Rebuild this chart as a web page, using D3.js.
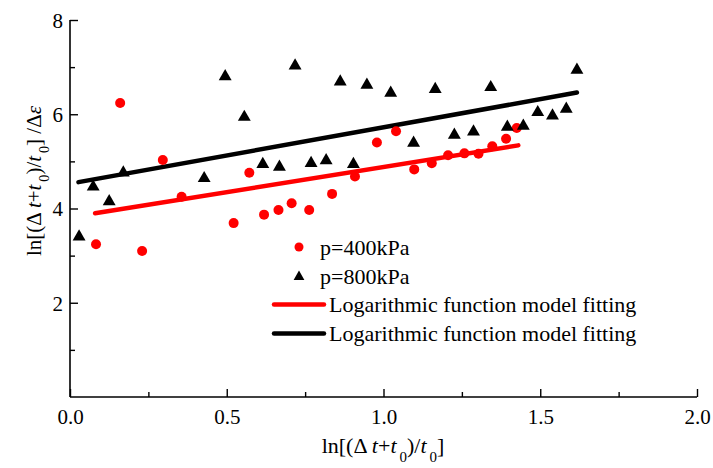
<!DOCTYPE html>
<html>
<head>
<meta charset="utf-8">
<script src="https://cdn.jsdelivr.net/npm/d3@7"></script>
<style>
  html, body { margin: 0; padding: 0; background: #fff; }
  svg { display: block; }
  text { font-family: "Liberation Serif", "Times New Roman", serif; fill: #000; }
</style>
</head>
<body>
<svg id="chart" width="713" height="468"></svg>
<script>
// ---- data ----
const x400 = [0.083, 0.160, 0.230, 0.296, 0.356, 0.522, 0.572, 0.619, 0.665, 0.707, 0.763, 0.836, 0.909, 0.979, 1.040, 1.098, 1.154, 1.206, 1.258, 1.303, 1.347, 1.391, 1.425];
const y400 = [3.24, 6.24, 3.10, 5.03, 4.25, 3.69, 4.76, 3.87, 3.97, 4.11, 3.97, 4.31, 4.68, 5.40, 5.64, 4.83, 4.96, 5.13, 5.17, 5.16, 5.32, 5.48, 5.71];

const x800 = [0.029, 0.074, 0.125, 0.170, 0.428, 0.495, 0.556, 0.615, 0.668, 0.718, 0.769, 0.817, 0.862, 0.904, 0.947, 1.023, 1.096, 1.165, 1.226, 1.287, 1.342, 1.395, 1.446, 1.492, 1.539, 1.583, 1.617];
const y800 = [3.40, 4.46, 4.15, 4.76, 4.64, 6.80, 5.94, 4.94, 4.88, 7.03, 4.96, 5.02, 6.69, 4.94, 6.62, 6.45, 5.39, 6.53, 5.56, 5.63, 6.57, 5.73, 5.75, 6.04, 5.97, 6.11, 6.94];

const fit400X = [0.080, 1.430];
const fit400Y = [3.90, 5.34];
const fit800X = [0.027, 1.617];
const fit800Y = [4.56, 6.46];

const xMajorTicks = [0, 0.5, 1.0, 1.5, 2.0];
const xMinorTicks = [0.25, 0.75, 1.25, 1.75];
const yMajorTicks = [2, 4, 6, 8];
const yMinorTicks = [1, 3, 5, 7];

const legendLabels = ["p=400kPa", "p=800kPa", "Logarithmic function model fitting", "Logarithmic function model fitting"];

// ---- drawing ----
const svg = d3.select("#chart");
const x = d3.scaleLinear().domain([0, 2]).range([70, 697]);
const y = d3.scaleLinear().domain([0, 8]).range([397, 20]);

const red = "#ff0000";
const blk = "#000000";
const serif = '"Liberation Serif", "Times New Roman", serif';

// axes
const gx = svg.append("g").attr("transform", `translate(0,${y(0)})`);
gx.call(d3.axisBottom(x).tickValues(xMajorTicks).tickSizeInner(-8).tickSizeOuter(0).tickFormat(d3.format(".1f")));
gx.append("g").call(d3.axisBottom(x).tickValues(xMinorTicks).tickSizeInner(-5).tickSizeOuter(0).tickFormat(""));
gx.selectAll(".domain").remove();
gx.append("line").attr("x1", x(0)).attr("x2", x(2)).attr("stroke", blk).attr("stroke-width", 1.6);
gx.attr("font-family", serif);
gx.selectAll("text").attr("font-size", 21).attr("dy", "0").attr("y", 27)
  .style("font-family", serif);
gx.selectAll(".tick line").attr("stroke-width", 1.4);

const gy = svg.append("g").attr("transform", `translate(${x(0)},0)`);
gy.call(d3.axisLeft(y).tickValues(yMajorTicks).tickSizeInner(-8).tickSizeOuter(0).tickFormat(d3.format("d")));
gy.append("g").call(d3.axisLeft(y).tickValues(yMinorTicks).tickSizeInner(-5).tickSizeOuter(0).tickFormat(""));
gy.selectAll(".domain").remove();
gy.append("line").attr("y1", y(0)).attr("y2", y(8)).attr("stroke", blk).attr("stroke-width", 1.6);
gy.attr("font-family", serif);
gy.selectAll("text").attr("font-size", 21).attr("x", -7).attr("dy", "0.35em")
  .style("font-family", serif);
gy.selectAll(".tick line").attr("stroke-width", 1.4);

// fit lines
const line = d3.line().x(d => x(d[0])).y(d => y(d[1]));
svg.append("path").datum(d3.zip(fit400X, fit400Y)).attr("d", line)
  .attr("fill", "none").attr("stroke", red).attr("stroke-width", 4.5).attr("stroke-linecap", "round");
svg.append("path").datum(d3.zip(fit800X, fit800Y)).attr("d", line)
  .attr("fill", "none").attr("stroke", blk).attr("stroke-width", 4.5).attr("stroke-linecap", "round");

// points
svg.append("g").selectAll("circle").data(d3.zip(x400, y400)).join("circle")
  .attr("cx", d => x(d[0])).attr("cy", d => y(d[1])).attr("r", 5).attr("fill", red);
const tri = d3.symbol().type(d3.symbolTriangle).size(72);
svg.append("g").selectAll("path").data(d3.zip(x800, y800)).join("path")
  .attr("d", tri).attr("transform", d => `translate(${x(d[0])},${y(d[1])})`).attr("fill", blk);

// legend
const lg = svg.append("g");
const lx = 299, ly0 = 247, ldy = 28.8;
const textX = [320, 320, 329, 329];
lg.append("circle").attr("cx", lx).attr("cy", ly0).attr("r", 4.5).attr("fill", red);
lg.append("path").attr("d", d3.symbol().type(d3.symbolTriangle).size(50))
  .attr("transform", `translate(${lx},${ly0 + ldy + 1})`).attr("fill", blk);
lg.append("line").attr("x1", lx - 25).attr("x2", lx + 25).attr("y1", ly0 + 2 * ldy).attr("y2", ly0 + 2 * ldy)
  .attr("stroke", red).attr("stroke-width", 4.5).attr("stroke-linecap", "round");
lg.append("line").attr("x1", lx - 25).attr("x2", lx + 25).attr("y1", ly0 + 3 * ldy).attr("y2", ly0 + 3 * ldy)
  .attr("stroke", blk).attr("stroke-width", 4.5).attr("stroke-linecap", "round");
legendLabels.forEach((t, i) => {
  lg.append("text").attr("x", textX[i]).attr("y", ly0 + i * ldy).attr("dy", "0.35em")
    .attr("font-size", 22).text(t);
});

// axis titles with italic / subscript pieces
function rich(sel, parts, size) {
  parts.forEach(p => {
    const ts = sel.append("tspan").text(p.t);
    if (p.i) ts.attr("font-style", "italic");
    if (p.sub) ts.attr("font-size", size * 0.68).attr("dy", size * 0.4);
    if (p.back) ts.attr("dy", -size * 0.4);
  });
}
const xt = svg.append("text").attr("x", 383).attr("y", 453).attr("text-anchor", "middle").attr("font-size", 22);
rich(xt, [{t: "ln[(Δ "}, {t: "t", i: 1}, {t: "+"}, {t: "t", i: 1}, {t: "\u20090", sub: 1},
          {t: ")/", back: 1}, {t: "t", i: 1}, {t: "\u20090", sub: 1}, {t: "]", back: 1}], 22);

const yt = svg.append("text").attr("transform", "translate(41,181) rotate(-90)").attr("text-anchor", "middle").attr("font-size", 21);
rich(yt, [{t: "ln[(Δ "}, {t: "t", i: 1}, {t: "+"}, {t: "t", i: 1}, {t: "\u20090", sub: 1},
          {t: ")/", back: 1}, {t: "t", i: 1}, {t: "\u20090", sub: 1}, {t: "] /Δ", back: 1}, {t: "ε", i: 1}], 21);
</script>
</body>
</html>
